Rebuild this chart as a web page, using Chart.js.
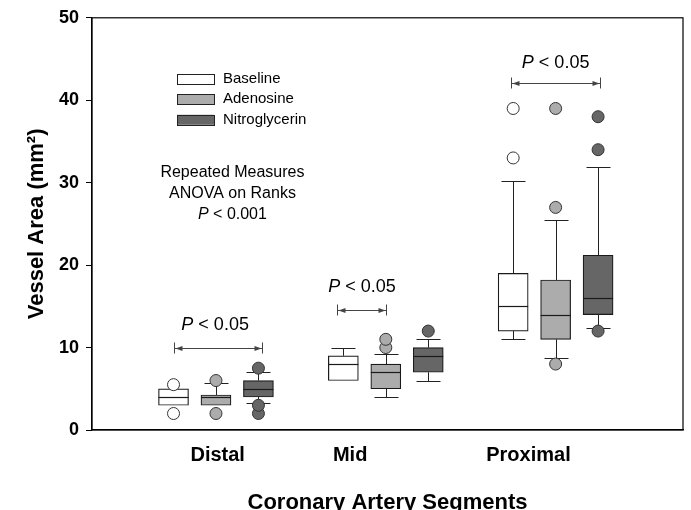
<!DOCTYPE html>
<html>
<head>
<meta charset="utf-8">
<script src="https://cdn.jsdelivr.net/npm/chart.js@4.4.1/dist/chart.umd.min.js"></script>
<style>
html, body { margin: 0; padding: 0; background: #fff; }
#wrap { width: 691px; height: 510px; }
</style>
</head>
<body>
<div id="wrap"><canvas id="boxChart"></canvas></div>
<script>
const FONT = "'Liberation Sans', Arial, sans-serif";

// categories
const segments = ['Distal', 'Mid', 'Proximal'];
const segmentLabelPos = [1.01, 1.79, 2.84];
const treatments = ['Baseline', 'Adenosine', 'Nitroglycerin'];
const fills = ['#ffffff', '#acacac', '#666666'];
const offsets = [-0.25, 0, 0.25];

// [low whisker, q1, median, q3, high whisker] for Distal, Mid, Proximal
const baselineBox = [[3, 3, 4, 5, 5], [6, 6, 8, 9, 10], [11, 12, 15, 19, 30.2]];
const adenosineBox = [[3, 3, 4, 4.25, 5.7], [4, 5, 7, 8, 9.2], [8.7, 11, 14, 18.2, 25.5]];
const nitroBox = [[3.3, 4, 5, 6, 7], [6, 7, 9, 10, 11], [12.4, 14, 16, 21.2, 31.9]];

// outliers
const baselineOut = [[2, 5.5], [], [33, 39]];
const adenosineOut = [[2, 6], [10, 11], [8, 27, 39]];
const nitroOut = [[2, 3, 7.5], [12], [12, 34, 38]];

const yTicks = [0, 10, 20, 30, 40, 50];

// P < 0.05 brackets: from, to, level, text x, text y
const bracketFrom = [0.75, 1.71, 2.74];
const bracketTo = [1.27, 2.0, 3.26];
const bracketY = [10, 14.6, 42.1];
const pTextX = [0.995, 1.86, 3.0];
const pTextY = [12.7, 17.3, 44.55];

const boxes = [baselineBox, adenosineBox, nitroBox];
const outs = [baselineOut, adenosineOut, nitroOut];

const datasets = [];
treatments.forEach((name, t) => {
    datasets.push({
        type: 'bar',
        label: name,
        data: boxes[t].map((b, s) => ({ x: s + 1 + offsets[t], y: [b[1], b[3]] })),
        backgroundColor: fills[t],
        borderColor: '#1a1a1a',
        borderWidth: 1.2,
        borderSkipped: false,
        barThickness: 30,
        grouped: false,
        order: 2
    });
});
treatments.forEach((name, t) => {
    const pts = [];
    outs[t].forEach((list, s) => list.forEach(v => pts.push({ x: s + 1 + offsets[t], y: v })));
    datasets.push({
        type: 'scatter',
        label: name + ' outliers',
        data: pts,
        backgroundColor: fills[t],
        borderColor: '#333',
        borderWidth: 1,
        pointRadius: 6,
        pointHoverRadius: 6,
        order: 1
    });
});

function pLabel(ctx, text, cx, cy, size) {
    ctx.font = 'italic ' + size + 'px ' + FONT;
    const w1 = ctx.measureText('P').width;
    ctx.font = size + 'px ' + FONT;
    const w2 = ctx.measureText(text).width;
    let x = cx - (w1 + w2) / 2;
    ctx.textAlign = 'left';
    ctx.textBaseline = 'middle';
    ctx.font = 'italic ' + size + 'px ' + FONT;
    ctx.fillText('P', x, cy);
    ctx.font = size + 'px ' + FONT;
    ctx.fillText(text, x + w1, cy);
}

const boxExtras = {
    id: 'boxExtras',
    beforeDatasetsDraw(chart) {
        const { ctx, scales: { x, y } } = chart;
        ctx.save();
        ctx.strokeStyle = '#222';
        ctx.lineWidth = 1;
        boxes.forEach((set, t) => set.forEach((b, s) => {
            const px = Math.round(x.getPixelForValue(s + 1 + offsets[t])) + 0.5;
            const ends = [[b[0], b[1]], [b[4], b[3]]];
            ends.forEach(([w, edge]) => {
                if (w === edge) return;
                const wy = Math.round(y.getPixelForValue(w)) + 0.5;
                ctx.beginPath();
                ctx.moveTo(px, wy);
                ctx.lineTo(px, y.getPixelForValue(edge));
                ctx.moveTo(px - 12, wy);
                ctx.lineTo(px + 12, wy);
                ctx.stroke();
            });
        }));
        ctx.restore();
    },
    afterDatasetsDraw(chart) {
        const { ctx, chartArea: a, scales: { x, y } } = chart;
        ctx.save();
        // medians
        ctx.strokeStyle = '#1a1a1a';
        ctx.lineWidth = 1.2;
        boxes.forEach((set, t) => set.forEach((b, s) => {
            const px = x.getPixelForValue(s + 1 + offsets[t]);
            const my = Math.round(y.getPixelForValue(b[2])) + 0.5;
            ctx.beginPath();
            ctx.moveTo(px - 15, my);
            ctx.lineTo(px + 15, my);
            ctx.stroke();
        }));

        // brackets
        ctx.strokeStyle = '#444';
        ctx.fillStyle = '#444';
        ctx.lineWidth = 1;
        bracketFrom.forEach((f, i) => {
            const x1 = Math.round(x.getPixelForValue(f)) + 0.5;
            const x2 = Math.round(x.getPixelForValue(bracketTo[i])) + 0.5;
            const by = Math.round(y.getPixelForValue(bracketY[i])) + 0.5;
            ctx.beginPath();
            ctx.moveTo(x1, by); ctx.lineTo(x2, by);
            ctx.moveTo(x1, by - 6); ctx.lineTo(x1, by + 5);
            ctx.moveTo(x2, by - 6); ctx.lineTo(x2, by + 5);
            ctx.stroke();
            ctx.beginPath();
            ctx.moveTo(x1 + 1, by); ctx.lineTo(x1 + 8, by - 2.5); ctx.lineTo(x1 + 8, by + 2.5); ctx.closePath();
            ctx.moveTo(x2 - 1, by); ctx.lineTo(x2 - 8, by - 2.5); ctx.lineTo(x2 - 8, by + 2.5); ctx.closePath();
            ctx.fill();
            ctx.fillStyle = '#000';
            pLabel(ctx, ' < 0.05', x.getPixelForValue(pTextX[i]), y.getPixelForValue(pTextY[i]), 18);
            ctx.fillStyle = '#444';
        });

        // ANOVA note
        const nx = x.getPixelForValue(1.097);
        ctx.fillStyle = '#000';
        ctx.textAlign = 'center';
        ctx.textBaseline = 'middle';
        ctx.font = '16px ' + FONT;
        ctx.fillText('Repeated Measures', nx, y.getPixelForValue(31.2));
        ctx.fillText('ANOVA on Ranks', nx, y.getPixelForValue(28.65));
        pLabel(ctx, ' < 0.001', nx, y.getPixelForValue(26.1), 16);

        // legend
        ctx.font = '15px ' + FONT;
        ctx.textAlign = 'left';
        ctx.lineWidth = 1;
        treatments.forEach((name, t) => {
            const cy = a.top + 61 + t * 20.5;
            ctx.fillStyle = fills[t];
            ctx.fillRect(a.left + 85, cy - 5, 37, 10);
            ctx.strokeStyle = '#222';
            ctx.strokeRect(a.left + 85.5, Math.round(cy - 5) + 0.5, 37, 10);
            ctx.fillStyle = '#000';
            ctx.fillText(name, a.left + 131, cy);
        });

        // frame
        ctx.strokeStyle = '#000';
        ctx.lineWidth = 1.2;
        ctx.strokeRect(a.left, a.top, a.right - a.left, a.bottom - a.top);
        ctx.restore();
    }
};

new Chart(document.getElementById('boxChart'), {
    type: 'bar',
    data: { datasets: datasets },
    options: {
        responsive: true,
        maintainAspectRatio: false,
        animation: false,
        layout: { padding: { left: 0, top: 17, right: 8, bottom: 0 } },
        scales: {
            x: {
                type: 'linear',
                offset: false,
                min: 0.27,
                max: 3.75,
                afterFit: s => { s.height = 80; },
                afterBuildTicks: s => { s.ticks = segmentLabelPos.map(v => ({ value: v })); },
                ticks: {
                    callback: (v, i) => segments[i],
                    color: '#000',
                    padding: 13,
                    maxRotation: 0,
                    autoSkip: false,
                    font: { family: FONT, size: 20, weight: 'bold' }
                },
                grid: { display: false, drawTicks: false },
                border: { display: true, color: '#000', width: 1.2 },
                title: {
                    display: true,
                    text: 'Coronary Artery Segments',
                    color: '#000',
                    padding: { top: 0, bottom: -6 },
                    font: { family: FONT, size: 22, weight: 'bold' }
                }
            },
            y: {
                min: 0,
                max: 50,
                afterFit: s => { s.width = 92; },
                afterBuildTicks: s => { s.ticks = yTicks.map(v => ({ value: v })); },
                ticks: {
                    color: '#000',
                    padding: 7,
                    font: { family: FONT, size: 18, weight: 'bold' }
                },
                grid: { display: true, drawOnChartArea: false, drawTicks: true, tickLength: 6, color: '#000' },
                border: { display: true, color: '#000', width: 1.2 },
                title: {
                    display: true,
                    text: 'Vessel Area (mm²)',
                    color: '#000',
                    padding: { top: 24, bottom: 0 },
                    font: { family: FONT, size: 22, weight: 'bold' }
                }
            }
        },
        plugins: {
            legend: { display: false },
            tooltip: { enabled: false }
        }
    },
    plugins: [boxExtras]
});
</script>
</body>
</html>
